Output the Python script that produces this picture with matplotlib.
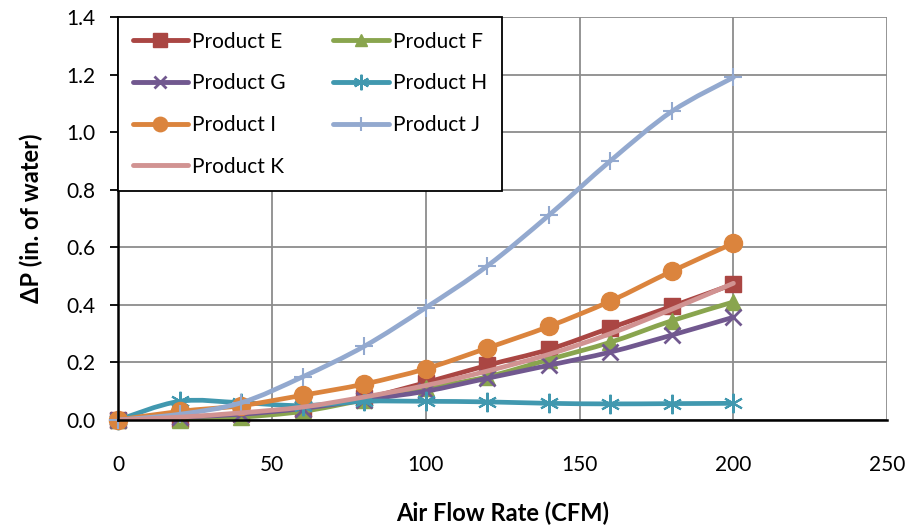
import matplotlib
matplotlib.use("Agg")
import matplotlib.pyplot as plt
import numpy as np
from matplotlib.path import Path
from matplotlib.patches import PathPatch
from matplotlib.lines import Line2D

flow = [0, 20, 40, 60, 80, 100, 120, 140, 160, 180, 200]

product_e = [0.0, 0.005, 0.02, 0.04, 0.075, 0.13, 0.19, 0.245, 0.32, 0.395, 0.472]
product_f = [0.0, 0.0, 0.01, 0.03, 0.07, 0.11, 0.15, 0.21, 0.27, 0.345, 0.41]
product_g = [0.0, 0.01, 0.02, 0.04, 0.07, 0.10, 0.145, 0.19, 0.236, 0.295, 0.357]
product_h = [0.0, 0.065, 0.06, 0.05, 0.065, 0.065, 0.063, 0.058, 0.056, 0.057, 0.058]
product_i = [0.0, 0.03, 0.05, 0.086, 0.125, 0.178, 0.25, 0.325, 0.413, 0.517, 0.614]
product_j = [0.0, 0.02, 0.06, 0.15, 0.256, 0.39, 0.535, 0.711, 0.90, 1.072, 1.19]
product_k = [0.0, 0.01, 0.025, 0.045, 0.08, 0.12, 0.17, 0.228, 0.30, 0.385, 0.475]

series = [
    ("Product E", product_e, "#AA4643", "s", 12, 1),
    ("Product F", product_f, "#89A54E", "^", 11, 1),
    ("Product G", product_g, "#71588F", "x", 11, 2),
    ("Product H", product_h, "#4198AF", (6, 2, 0), 14, 1.5),
    ("Product I", product_i, "#DB843D", "o", 13, 1),
    ("Product J", product_j, "#93A9CF", "+", 13, 1.5),
    ("Product K", product_k, "#D19392", None, 0, 1),
]


def smooth_path(x, y, t=1 / 6):
    # bezier segments through the points, like a spreadsheet "smoothed line"
    pts = np.column_stack([x, y]).astype(float)
    verts = [pts[0]]
    codes = [Path.MOVETO]
    n = len(pts)
    for i in range(n - 1):
        p0 = pts[i - 1] if i > 0 else pts[i]
        p1 = pts[i]
        p2 = pts[i + 1]
        p3 = pts[i + 2] if i + 2 < n else pts[i + 1]
        c1 = p1 + (p2 - p0) * t
        c2 = p2 - (p3 - p1) * t
        verts += [c1, c2, p2]
        codes += [Path.CURVE4] * 3
    return Path(verts, codes)


plt.rcParams['font.family'] = ['Lato', 'DejaVu Sans']

fig = plt.figure(figsize=(9.11, 5.29), dpi=100)
ax = fig.add_axes([0.1295, 0.206, 0.8445, 0.762])

handles = []
for z, (name, vals, col, mk, ms, mew) in enumerate(series):
    patch = PathPatch(smooth_path(flow, vals), facecolor="none", edgecolor=col,
                      lw=3.4, capstyle="round", joinstyle="round", zorder=3 + z)
    ax.add_patch(patch)
    if mk is not None:
        ax.plot(flow, vals, linestyle="none", marker=mk, markersize=ms,
                color=col, markeredgewidth=mew, zorder=3 + z, clip_on=False)
    handles.append(Line2D([], [], color=col, lw=3.5, marker=mk,
                          markersize=ms * 0.8, markeredgewidth=mew,
                          solid_capstyle="round"))

ax.set_xlim(0, 250)
ax.set_ylim(0, 1.4)
ax.set_xticks(np.arange(0, 251, 50))
ax.set_yticks(np.arange(0, 1.41, 0.2))
ax.set_yticklabels([f"{v:.1f}" for v in np.arange(0, 1.41, 0.2)])
ax.grid(True, color="#8c8c8c", lw=1.3)
ax.set_axisbelow(True)
for s in ["top", "right"]:
    ax.spines[s].set_visible(False)
for s in ["left", "bottom"]:
    ax.spines[s].set_linewidth(1.8)
    ax.spines[s].set_zorder(20)
ax.tick_params(axis="y", length=6, width=1.3, labelsize=15, pad=10)
ax.tick_params(axis="x", length=0, labelsize=15, pad=25)

ax.set_xlabel("Air Flow Rate (CFM)", fontsize=17, fontweight="bold", labelpad=19)
ax.set_ylabel("ΔP (in. of water)", fontsize=17, fontweight="bold", labelpad=17)

# legend is filled row by row in the reference: E F / G H / I J / K
order = [0, 2, 4, 6, 1, 3, 5]
leg = ax.legend([handles[i] for i in order], [series[i][0] for i in order],
                ncol=2, loc="upper left", bbox_to_anchor=(0, 1), fontsize=15,
                frameon=True, fancybox=False, borderaxespad=0,
                handlelength=2.65, columnspacing=2.3, labelspacing=1.04,
                borderpad=0.7, handletextpad=0.2)
leg.get_frame().set_edgecolor("black")
leg.get_frame().set_linewidth(1.3)
leg.get_frame().set_alpha(1)
leg.set_zorder(30)

fig.savefig("out.png", dpi=100)
